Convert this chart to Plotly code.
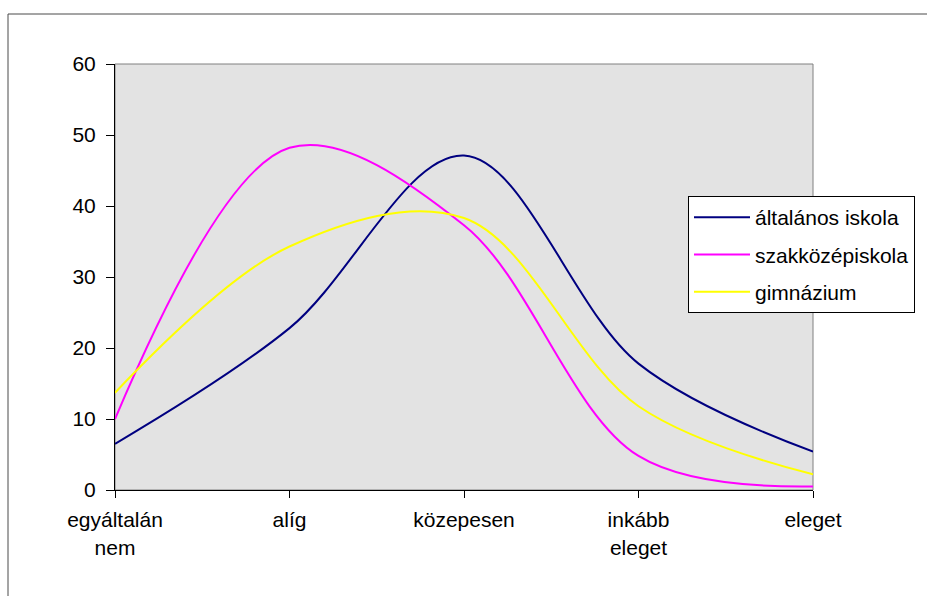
import plotly.graph_objects as go

# Response categories along the x axis
categories = ["egyáltalán<br>nem", "alíg", "közepesen", "inkább<br>eleget", "eleget"]

# Percentages per school type
altalanos = [6.5, 22.8, 47.1, 17.8, 5.4]
szakkozep = [10.0, 48.2, 37.3, 4.8, 0.5]
gimnazium = [13.7, 34.3, 38.3, 11.8, 2.2]

series = [
    ("általános iskola", altalanos, "#000080"),
    ("szakközépiskola", szakkozep, "#FF00FF"),
    ("gimnázium", gimnazium, "#FFFF00"),
]

W, H = 927, 596
L, R, T, B = 115, 114, 64, 106
FONT = "Liberation Sans, Arial, sans-serif"
FS = 21

xs = list(range(len(categories)))

fig = go.Figure()
for name, vals, color in series:
    fig.add_trace(go.Scatter(
        x=xs, y=vals, name=name, mode="lines",
        line=dict(color=color, width=2, shape="spline", smoothing=1),
        legendgroup=name,
    ))

pw = W - L - R
ph = H - T - B

fig.update_layout(
    width=W, height=H,
    margin=dict(l=L, r=R, t=T, b=B, pad=0),
    paper_bgcolor="white",
    plot_bgcolor="#E3E3E3",
    font=dict(family=FONT, size=FS, color="black"),
    showlegend=True,
    legend=dict(
        x=(688 - L) / pw, y=(490 - 196) / ph,
        xanchor="left", yanchor="top",
        bgcolor="white", bordercolor="black", borderwidth=1,
        font=dict(family=FONT, size=FS, color="black"),
        tracegroupgap=7, itemwidth=56,
    ),
    xaxis=dict(
        range=[0, len(categories) - 1],
        tickmode="array", tickvals=xs, ticktext=categories,
        showgrid=False, zeroline=False,
        showline=True, linecolor="black", linewidth=1,
        ticks="outside", ticklen=7, tickcolor="black", tickwidth=1,
        tickfont=dict(family=FONT, size=FS, color="black"),
        ticklabelstandoff=4,
        fixedrange=True,
    ),
    yaxis=dict(
        range=[0, 60], dtick=10, tick0=0,
        showgrid=False, zeroline=False,
        showline=True, linecolor="black", linewidth=1,
        ticks="outside", ticklen=8, tickcolor="black", tickwidth=1,
        tickfont=dict(family=FONT, size=FS, color="black"),
        ticklabelstandoff=6,
        fixedrange=True,
    ),
    shapes=[
        # gray frame on the top and right of the plot area
        dict(type="rect", xref="paper", yref="paper", x0=0, x1=1, y0=0, y1=1,
             line=dict(color="#808080", width=1), layer="below"),
        # outer chart border
        dict(type="rect", xref="paper", yref="paper",
             x0=(8 - L) / pw, x1=(W + 20 - L) / pw,
             y0=(490 - (H + 20)) / ph, y1=(490 - 14) / ph,
             line=dict(color="#4a4a4a", width=1), layer="below"),
    ],
)

fig.write_html("out.html")
